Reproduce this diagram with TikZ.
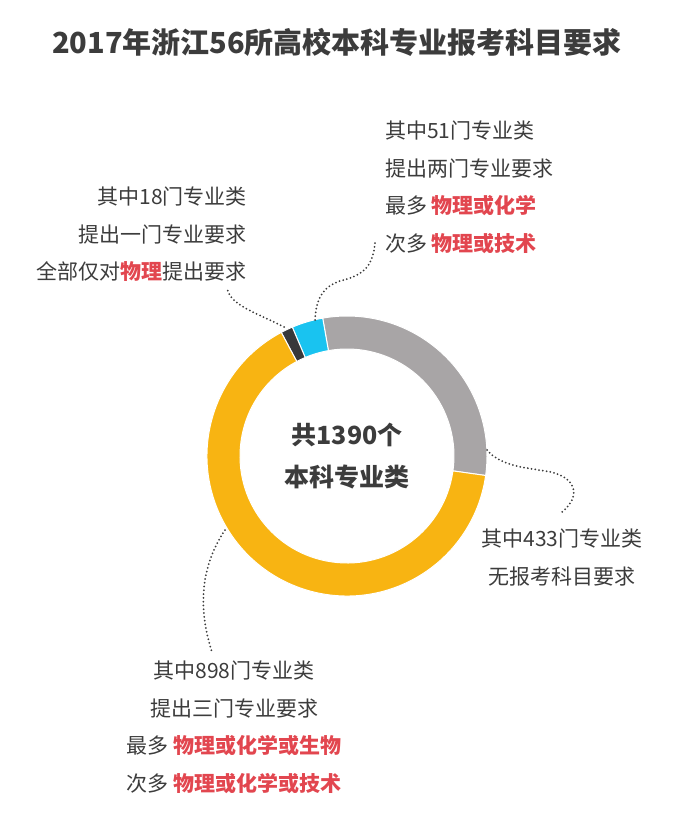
\documentclass[tikz,border=0pt]{standalone}
\usepackage{fontspec}
\setmainfont{Noto Sans CJK SC}
\usepackage{tikz}
\usetikzlibrary{positioning}

\definecolor{txtgray}{HTML}{3C3C3C}
\definecolor{hlred}{HTML}{E2464F}
\definecolor{ringyellow}{HTML}{F8B412}
\definecolor{ringgray}{HTML}{A8A5A6}
\definecolor{ringcyan}{HTML}{19C3F0}
\definecolor{ringblack}{HTML}{38383A}
\newcommand{\redtxt}[1]{\textcolor{hlred}{\bfseries #1}}

\begin{document}
\begin{tikzpicture}[x=1pt,y=-1pt,
    note/.style={inner sep=0pt, text=txtgray, font=\fontsize{21}{37.5}\selectfont},
    leader/.style={draw=txtgray, line width=2pt, line cap=round, dash pattern=on 0pt off 3.8pt}]
  \useasboundingbox (0,0) rectangle (680,832);
  \node[inner sep=0pt, text=txtgray, font=\fontsize{29}{34}\selectfont\bfseries] (title) at (337,42) {2017年浙江56所高校本科专业报考科目要求};

  % ring
  \coordinate (ctr) at (347,456);
  \begin{scope}[shift={(ctr)}]
    \foreach \a/\b/\c in {-8/100/ringgray, 100/113/ringcyan, 113/118/ringblack, 118/352/ringyellow}
      \fill[\c, draw=white, line width=1pt] (\a:140pt) arc[start angle=\a, end angle=\b, radius=140pt]
        -- (\b:107pt) arc[start angle=\b, end angle=\a, radius=107pt] -- cycle;
  \end{scope}
  \node[inner sep=0pt, text=txtgray, align=center, font=\fontsize{25}{42}\selectfont\bfseries] (total) at (ctr) {共1390个\\本科专业类};

  % notes
  \node[note, anchor=west, align=left] (t51) at (385,187.5) {其中51门专业类\\提出两门专业要求\\最多 \redtxt{物理或化学}\\次多 \redtxt{物理或技术}};
  \node[note, anchor=east, align=right] (t18) at (247,234.5) {其中18门专业类\\提出一门专业要求\\全部仅对\redtxt{物理}提出要求};
  \node[note, align=center] (t433) at (562,557.5) {其中433门专业类\\无报考科目要求};
  \node[note, align=center] (t898) at (234,727.5) {其中898门专业类\\提出三门专业要求\\最多 \redtxt{物理或化学或生物}\\次多 \redtxt{物理或化学或技术}};

  % leaders
  \coordinate (seg18) at (284,327);
  \coordinate (end18) at (227,287);
  \coordinate (seg51) at (315,320);
  \coordinate (end51) at (375,243);
  \coordinate (seg433) at (487,450);
  \coordinate (end433) at (562,512);
  \coordinate (seg898) at (225,530);
  \coordinate (end898) at (212,652);
  \draw[leader] (seg18) .. controls (255,312) and (229,305) .. (end18);
  \draw[leader] (seg51) .. controls (316,300) and (322,287) .. (340,281) .. controls (365,275) and (373,265) .. (end51);
  \draw[leader] (seg433) .. controls (500,465) and (520,467) .. (545,471) .. controls (575,475) and (583,495) .. (end433);
  \draw[leader] (seg898) .. controls (205,560) and (195,600) .. (end898);
\end{tikzpicture}
\end{document}
